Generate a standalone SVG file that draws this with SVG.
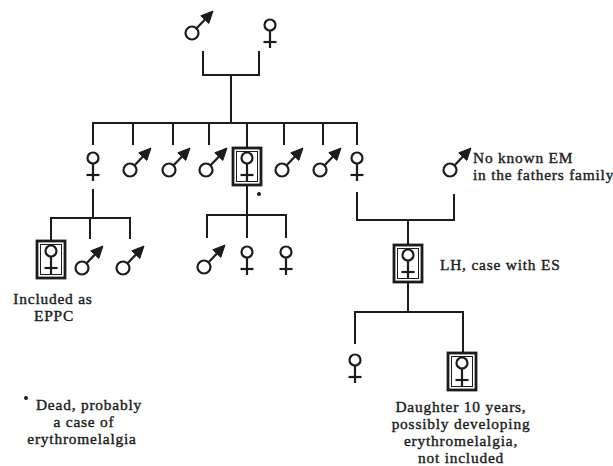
<svg xmlns="http://www.w3.org/2000/svg" xmlns:xlink="http://www.w3.org/1999/xlink" width="613" height="466" viewBox="0 0 613 466">
  <style>
    .ln { stroke: #1c1c1c; stroke-width: 2; fill: none; stroke-linecap: square; }
    .sym { stroke: #1c1c1c; stroke-width: 2.2; fill: none; }
    .head { fill: #1c1c1c; stroke: #1c1c1c; stroke-width: 1; stroke-linejoin: round; }
    .box { stroke: #1c1c1c; stroke-width: 2.8; fill: none; }
    .inner { stroke: #1c1c1c; stroke-width: 1; fill: none; }
    .lbl { font-family: "Liberation Serif", "Times New Roman", serif; font-size: 15.4px; fill: #1c1c1c; stroke: #1c1c1c; stroke-width: 0.4px; letter-spacing: 0.8px; }
    .mid { text-anchor: middle; }
  </style>
  <defs>
    <!-- male: circle with arrow pointing up-right -->
    <g id="male">
      <circle class="sym" cx="0" cy="0" r="6.5"/>
      <line class="sym" x1="4.6" y1="-4.8" x2="13" y2="-13.6"/>
      <polygon class="head" points="21,-22 16.8,-9.6 8.8,-17.2"/>
    </g>
    <!-- female: circle with cross below -->
    <g id="female">
      <circle class="sym" cx="0" cy="0" r="5.5"/>
      <line class="sym" x1="0" y1="5.5" x2="0" y2="23"/>
      <line class="sym" x1="-6.5" y1="17" x2="6.5" y2="17"/>
    </g>
    <!-- affected female: female inside a double-ruled box -->
    <g id="female-boxed">
      <rect class="box" x="-14" y="-10" width="28" height="37"/>
      <rect class="inner" x="-10.5" y="-6.5" width="21" height="30"/>
      <use xlink:href="#female"/>
    </g>
  </defs>

  <!-- connectors -->
  <g id="connectors">
    <!-- grandparents -->
    <polyline class="ln" points="203,52 203,75 259,75 259,52"/>
    <line class="ln" x1="231" y1="75" x2="231" y2="123"/>
    <!-- sibship -->
    <line class="ln" x1="93" y1="123" x2="357" y2="123"/>
    <line class="ln" x1="93" y1="123" x2="93" y2="144"/>
    <line class="ln" x1="133" y1="123" x2="133" y2="144"/>
    <line class="ln" x1="173" y1="123" x2="173" y2="144"/>
    <line class="ln" x1="209" y1="123" x2="209" y2="144"/>
    <line class="ln" x1="247" y1="123" x2="247" y2="148"/>
    <line class="ln" x1="284" y1="123" x2="284" y2="144"/>
    <line class="ln" x1="323" y1="123" x2="323" y2="144"/>
    <line class="ln" x1="357" y1="123" x2="357" y2="144"/>
    <!-- left family -->
    <line class="ln" x1="93" y1="190" x2="93" y2="218"/>
    <line class="ln" x1="51" y1="218" x2="130" y2="218"/>
    <line class="ln" x1="51" y1="218" x2="51" y2="240"/>
    <line class="ln" x1="90" y1="218" x2="90" y2="238"/>
    <line class="ln" x1="130" y1="218" x2="130" y2="238"/>
    <!-- middle family -->
    <line class="ln" x1="247" y1="186" x2="247" y2="215"/>
    <line class="ln" x1="207" y1="215" x2="286" y2="215"/>
    <line class="ln" x1="207" y1="215" x2="207" y2="237"/>
    <line class="ln" x1="247" y1="215" x2="247" y2="237"/>
    <line class="ln" x1="286" y1="215" x2="286" y2="237"/>
    <!-- right family -->
    <polyline class="ln" points="357,193 357,220 454,220 454,195"/>
    <line class="ln" x1="408" y1="220" x2="408" y2="244"/>
    <line class="ln" x1="408" y1="284" x2="408" y2="312"/>
    <line class="ln" x1="355" y1="312" x2="463" y2="312"/>
    <line class="ln" x1="355" y1="312" x2="355" y2="343"/>
    <line class="ln" x1="463" y1="312" x2="463" y2="352"/>
  </g>

  <!-- generation I -->
  <g id="grandfather"><use xlink:href="#male" transform="translate(192,33)"/></g>
  <g id="grandmother"><use xlink:href="#female" transform="translate(270,25)"/></g>

  <!-- generation II -->
  <g id="sib1"><use xlink:href="#female" transform="translate(93,158)"/></g>
  <g id="sib2"><use xlink:href="#male" transform="translate(130,170)"/></g>
  <g id="sib3"><use xlink:href="#male" transform="translate(169,170)"/></g>
  <g id="sib4"><use xlink:href="#male" transform="translate(206,170)"/></g>
  <g id="sib5"><use xlink:href="#female-boxed" transform="translate(247,158)"/></g>
  <g id="sib6"><use xlink:href="#male" transform="translate(282,170)"/></g>
  <g id="sib7"><use xlink:href="#male" transform="translate(320,170)"/></g>
  <g id="sib8"><use xlink:href="#female" transform="translate(357,158)"/></g>
  <g id="dead-mark"><circle cx="259" cy="194" r="2" fill="#1c1c1c"/></g>
  <g id="father">
    <use xlink:href="#male" transform="translate(450,170)"/>
    <text class="lbl" x="473" y="163">No known EM</text>
    <text class="lbl" x="473" y="180">in the fathers family</text>
  </g>

  <!-- generation III -->
  <g id="eppc">
    <use xlink:href="#female-boxed" transform="translate(51,251)"/>
    <text class="lbl mid" x="53" y="304">Included as</text>
    <text class="lbl mid" x="54" y="321">EPPC</text>
  </g>
  <g id="cousin1"><use xlink:href="#male" transform="translate(82,268)"/></g>
  <g id="cousin2"><use xlink:href="#male" transform="translate(123,268)"/></g>
  <g id="cousin3"><use xlink:href="#male" transform="translate(204,267)"/></g>
  <g id="cousin4"><use xlink:href="#female" transform="translate(247,252)"/></g>
  <g id="cousin5"><use xlink:href="#female" transform="translate(286,252)"/></g>
  <g id="lh">
    <use xlink:href="#female-boxed" transform="translate(408,255)"/>
    <text class="lbl" x="440" y="270">LH, case with ES</text>
  </g>

  <!-- generation IV -->
  <g id="daughter1"><use xlink:href="#female" transform="translate(355,360)"/></g>
  <g id="daughter2">
    <use xlink:href="#female-boxed" transform="translate(462,363)"/>
    <text class="lbl mid" x="461" y="412">Daughter 10 years,</text>
    <text class="lbl mid" x="461" y="429">possibly developing</text>
    <text class="lbl mid" x="461" y="446">erythromelalgia,</text>
    <text class="lbl mid" x="461" y="463">not included</text>
  </g>

  <!-- footnote -->
  <g id="footnote">
    <circle cx="26" cy="398" r="2" fill="#1c1c1c"/>
    <text class="lbl mid" x="89" y="410">Dead, probably</text>
    <text class="lbl mid" x="84" y="427">a case of</text>
    <text class="lbl mid" x="82" y="444">erythromelalgia</text>
  </g>
</svg>
